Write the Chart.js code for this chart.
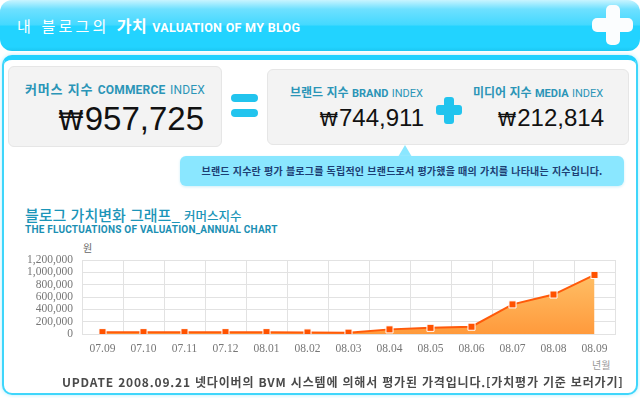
<!DOCTYPE html>
<html lang="ko">
<head>
<meta charset="utf-8">
<script src="https://cdn.jsdelivr.net/npm/chart.js@4.4.0/dist/chart.umd.min.js"></script>
<style>
  body { margin: 0; width: 640px; height: 398px; background: #fff; position: relative; overflow: hidden; font-family: "Noto Sans CJK KR", sans-serif; }
  .abs { position: absolute; }
  .header {
    left: 0; top: 0; width: 640px; height: 51px; border-radius: 12px;
    background: linear-gradient(#c8f4ff 0%, #6ee0ff 18%, #45d9ff 48%, #22d3ff 52%, #22d3ff 92%, #1cc8f2 100%);
  }
  .header-title { left: 17px; top: 13px; color: #fff; font-size: 15px; letter-spacing: 3.2px; white-space: nowrap; }
  .header-title b { font-weight: 700; font-size: 16px; letter-spacing: 0.5px; }
  .header-title span { font-family: Roboto, sans-serif; font-weight: 700; font-size: 12.5px; letter-spacing: 0.3px; margin-left: 5px; }
  .plus-big-v { left: 606px; top: 5px; width: 14px; height: 40px; background: #fbfdfe; border-radius: 5px; }
  .plus-big-h { left: 592px; top: 18px; width: 41px; height: 14px; background: #fbfdfe; border-radius: 5px; }
  .panel {
    left: 2px; top: 55px; width: 632px; height: 333px; border: 2px solid #3fd6fb; border-top: 5px solid #22d2ff;
    border-radius: 10px; box-shadow: 0 0 4px #aeeeff; background: #fff;
  }
  .box { background: #f3f3f3; border: 1px solid #e6e6e6; border-radius: 6px; }
  .label { color: #2b95b7; font-size: 12px; font-weight: 700; white-space: nowrap; }
  .label span { font-family: Roboto, sans-serif; font-size: 11px; }
  .label i { font-style: normal; font-weight: 400; font-family: Roboto, sans-serif; font-size: 11px; }
  .label.big { font-size: 13px; letter-spacing: 0.8px; }
  .label.big span, .label.big i { font-size: 12px; letter-spacing: 0.2px; }
  .value { font-family: "Liberation Sans", "DejaVu Sans", sans-serif; color: #111; white-space: nowrap; text-align: right; }
  .value em { font-style: normal; font-family: "DejaVu Sans", sans-serif; font-size: 0.78em; margin-right: 1px; }
  .eq { background: #22c4ee; border-radius: 4px; width: 27px; height: 8px; }
  .plus-v { left: 444px; top: 97px; width: 10px; height: 27px; background: #22c4ee; border-radius: 3px; }
  .plus-h { left: 436px; top: 105px; width: 26px; height: 10px; background: #22c4ee; border-radius: 3px; }
  .bubble { left: 180px; top: 156px; width: 444px; height: 30px; background: #8ae7ff; border-radius: 6px; box-shadow: 0 1px 3px #cfeff8; }
  .pointer { left: 398px; top: 145px; width: 0; height: 0; border-left: 7px solid transparent; border-right: 7px solid transparent; border-bottom: 12px solid #8ae7ff; }
  .bubble-text { left: 180px; top: 163px; width: 444px; text-align: center; color: #1d3f74; font-size: 10px; font-weight: 700; letter-spacing: 0.22px; white-space: nowrap; }
  .chart-title { left: 25px; top: 204px; color: #1b95b8; font-size: 15px; font-weight: 500; white-space: nowrap; }
  .chart-title span { font-size: 12.5px; }
  .chart-sub { left: 25px; top: 224px; color: #1b8fb3; font-family: Roboto, sans-serif; font-weight: 700; font-size: 10px; letter-spacing: 0.22px; white-space: nowrap; }
  .unit { font-size: 10px; color: #666; white-space: nowrap; }
  .footer { left: 62px; top: 373px; color: #4a4a4a; font-size: 12px; font-weight: 700; letter-spacing: 0.82px; white-space: nowrap; }
  .chart-box { left: 0; top: 240px; width: 640px; height: 135px; }
</style>
</head>
<body>
<div class="abs header"></div>
<div class="abs header-title">내 블로그의 <b>가치</b><span>VALUATION OF MY BLOG</span></div>
<div class="abs plus-big-v"></div>
<div class="abs plus-big-h"></div>

<div class="abs panel"></div>

<div class="abs box" style="left:8px;top:66px;width:212px;height:79px;"></div>
<div class="abs label big" style="left:25px;top:79px;">커머스 지수 <span>COMMERCE</span> <i>INDEX</i></div>
<div class="abs value" style="left:20px;top:100px;width:184px;font-size:33px;"><em>₩</em>957,725</div>

<div class="abs eq" style="left:231px;top:94px;"></div>
<div class="abs eq" style="left:231px;top:109px;"></div>

<div class="abs box" style="left:267px;top:69px;width:360px;height:74px;"></div>
<div class="abs label" style="left:290px;top:83px;">브랜드 지수 <span>BRAND</span> <i>INDEX</i></div>
<div class="abs value" style="left:290px;top:104px;width:134px;font-size:24px;"><em>₩</em>744,911</div>
<div class="abs plus-v"></div>
<div class="abs plus-h"></div>
<div class="abs label" style="left:473px;top:83px;">미디어 지수 <span>MEDIA</span> <i>INDEX</i></div>
<div class="abs value" style="left:470px;top:104px;width:134px;font-size:24px;"><em>₩</em>212,814</div>

<div class="abs pointer"></div>
<div class="abs bubble"></div>
<div class="abs bubble-text">브랜드 지수란 평가 블로그를 독립적인 브랜드로서 평가했을 때의 가치를 나타내는 지수입니다.</div>

<div class="abs chart-title">블로그 가치변화 그래프_ <span>커머스지수</span></div>
<div class="abs chart-sub">THE FLUCTUATIONS OF VALUATION_ANNUAL CHART</div>

<div class="abs unit" style="left:83px;top:240px;">원</div>
<div class="abs unit" style="left:592px;top:357px;color:#999;">년월</div>

<div class="abs chart-box"><canvas id="valueChart"></canvas></div>

<div class="abs footer">UPDATE 2008.09.21 넷다이버의 BVM 시스템에 의해서 평가된 가격입니다.[가치평가 기준 보러가기]</div>

<script>
// monthly commerce index (won)
const months = ["07.09", "07.10", "07.11", "07.12", "08.01", "08.02", "08.03", "08.04", "08.05", "08.06", "08.07", "08.08", "08.09"];
const commerceIndex = [30000, 30000, 30000, 30000, 30000, 25000, 22000, 75000, 100000, 118000, 480000, 640000, 957725];
const yTicks = [0, 200000, 400000, 600000, 800000, 1000000, 1200000];

const areaGradient = (context) => {
  const { ctx, chartArea } = context.chart;
  if (!chartArea) return "#ffad4d";
  const g = ctx.createLinearGradient(0, chartArea.top, 0, chartArea.bottom);
  g.addColorStop(0, "#ffc870");
  g.addColorStop(1, "#ff9a3c");
  return g;
};

new Chart(document.getElementById("valueChart"), {
  type: "line",
  data: {
    labels: months,
    datasets: [
      {
        data: commerceIndex,
        borderColor: "#ff5a0a",
        borderWidth: 2,
        backgroundColor: areaGradient,
        fill: "origin",
        tension: 0,
        pointStyle: "rect",
        pointRadius: 5,
        pointBackgroundColor: "#ff5200",
        pointBorderColor: "#ffffff",
        pointBorderWidth: 1,
      },
    ],
  },
  options: {
    responsive: true,
    maintainAspectRatio: false,
    animation: false,
    layout: { padding: { top: 20, right: 25, left: 0, bottom: 0 } },
    plugins: { legend: { display: false }, tooltip: { enabled: false } },
    scales: {
      x: {
        offset: true,
        grid: { offset: true, color: "#e2e2e2", drawTicks: false },
        border: { color: "#e2e2e2" },
        ticks: { color: "#777", padding: 8, font: { family: "Liberation Serif", size: 11.5 } },
        afterFit: (scale) => { scale.height = 41; },
      },
      y: {
        min: 0,
        max: 1200000,
        afterBuildTicks: (scale) => { scale.ticks = yTicks.map((v) => ({ value: v })); },
        grid: { color: "#e2e2e2", drawTicks: false },
        border: { color: "#e2e2e2" },
        ticks: {
          color: "#777",
          padding: 9,
          autoSkip: false,
          font: { family: "Liberation Serif", size: 11.5, lineHeight: 1 },
          callback: (v) => v.toLocaleString("en-US"),
        },
        afterFit: (scale) => { scale.width = 82; },
      },
    },
  },
});
</script>
</body>
</html>
